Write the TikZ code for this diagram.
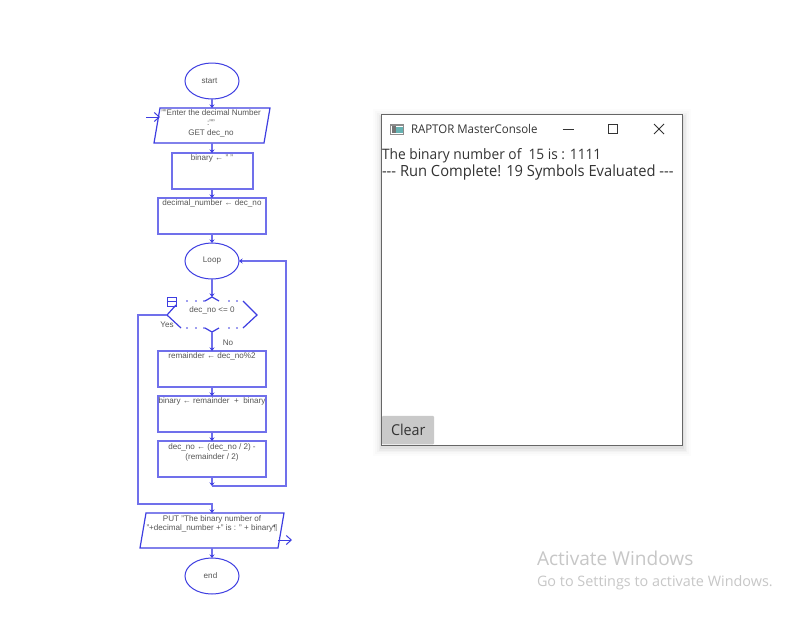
\documentclass[tikz,border=0pt]{standalone}
\usepackage{fontspec}
\setmainfont{Liberation Sans}
\newfontfamily\uifont[FakeStretch=0.955]{Open Sans}
\newfontfamily\wmfont{Open Sans}
\usetikzlibrary{arrows.meta,shapes.geometric,calc}
\definecolor{flow}{RGB}{62,62,225}
\definecolor{flowfill}{RGB}{112,112,235}
\definecolor{ink}{RGB}{85,85,85}
\tikzset{
  x=1pt,y=-1pt,
  every node/.style={inner sep=0pt,outer sep=0pt},
  term/.style={ellipse,draw=flow,line width=1pt,minimum width=54pt,minimum height=36pt},
  boxn/.style={rectangle,draw=flowfill,line width=1.4pt,minimum height=36pt},
  ghost/.style={rectangle,minimum width=130pt,minimum height=35pt},
  para/.style={draw=flow,line width=1.2pt},
  thinp/.style={draw=flow,line width=0.9pt},
  txt/.style={text=ink,font=\fontsize{8.1}{9.7}\selectfont,align=center,yshift=-0.8pt},
  conn/.style={draw=flowfill,line width=1.5pt,-{Stealth[length=3.5pt,width=5pt,color=flow]}},
  io/.style={draw=flow,line width=1pt,-{Straight Barb[length=5pt,width=9pt]}},
  ui/.style={text=black!80,font=\uifont\fontsize{15.4}{17}\selectfont,anchor=base west},
  wm/.style={text=black!22,anchor=base west},
}
\begin{document}
\begin{tikzpicture}
\useasboundingbox (0,0) rectangle (795,616);
\fill[white] (0,0) rectangle (795,616);

% ---- flowchart ----
\node[term] (start) at (212,81) {};
\node[txt] (starttxt) at (209.5,80) {start};

\node[ghost,minimum width=104pt] (inp) at (212,125.5) {};
\draw[para] (160,108) -- (270,108) -- (264,143) -- (154,143) -- cycle;
\node[txt] (inptxt) at (211,122.5) {"{}"Enter the decimal Number\\:"{}"\\GET dec\_no};
\coordinate (inpfree) at (146,117);
\coordinate (inpedge) at (160,117);

\node[boxn,minimum width=81pt] (bin) at (212.5,171) {};
\node[txt] (bintxt) at (212,158) {binary ← " "};
\node[boxn,minimum width=108pt] (dec) at (212,216) {};
\node[txt] (dectxt) at (212,203) {decimal\_number ← dec\_no};

\node[term] (loop) at (212,261) {};
\node[txt] (looptxt) at (212,260) {Loop};

\node[ghost,minimum width=90pt,minimum height=36pt] (cond) at (212,315) {};
\coordinate (condN) at (212,297);
\coordinate (condS) at (212,332);
\coordinate (condW) at (167,315);
\coordinate (condE) at (257,315);
\draw[para] (176,305) -- (condW) -- (181,328);
\draw[para] (243,301) -- (condE) -- (243,328);
\draw[para] (205,301) -- (condN) -- (219,301);
\draw[para] (205,328) -- (condS) -- (219,328);
\foreach \px in {187,196,204,229,237}{
  \fill[flow] (\px,301) circle (0.9);
  \fill[flow] (\px,328) circle (0.9);
}
\node[txt] (condtxt) at (212,309.5) {dec\_no <= 0};
\node[txt] (yes) at (167,324) {Yes};
\node[txt] (no) at (228,342) {No};
\draw[thinp] (167,297) rectangle (176,306);
\draw[thinp] (167,301.5) -- (176,301.5);

\node[boxn,minimum width=108pt] (rem) at (212,369) {};
\node[txt] (remtxt) at (212,356) {remainder ← dec\_no\%2};
\node[boxn,minimum width=108pt] (binb) at (212,414) {};
\node[txt] (binbtxt) at (212,401) {binary ← remainder\ \ +\ \ binary};
\node[boxn,minimum width=108pt] (divn) at (212,459) {};
\node[txt] (divtxt) at (212,451.5) {dec\_no ← (dec\_no / 2) -\\(remainder / 2)};

\coordinate (join) at (212,486);
\coordinate (backR) at (286,486);
\coordinate (backT) at (286,261);
\coordinate (yesL) at (138,315);
\coordinate (yesB) at (138,504);
\coordinate (yesE) at (212,504);

\node[ghost,minimum width=132pt] (out) at (212,530.5) {};
\draw[para] (146,513) -- (284,513) -- (278,548) -- (140,548) -- cycle;
\node[txt] (outtxt) at (212,523) {PUT "The binary number of\\"+decimal\_number +" is : " + binary¶};
\coordinate (outedge) at (278,540);
\coordinate (outfree) at (292,540);

\node[term] (end) at (212,576) {};
\node[txt] (endtxt) at (210.5,575) {end};

\draw[conn] (start.south) -- (inp.north);
\draw[conn] (inp.south) -- (bin.north -| inp.south);
\draw[conn] (bin.south -| inp.south) -- (dec.north);
\draw[conn] (dec.south) -- (loop.north);
\draw[conn] (loop.south) -- (condN);
\draw[conn] (condS) -- (rem.north);
\draw[conn] (rem.south) -- (binb.north);
\draw[conn] (binb.south) -- (divn.north);
\draw[conn] (divn.south) -- (join);
\draw[conn] (join) -- (backR) -- (backT) -- (loop.east);
\draw[conn] (condW) -- (yesL) -- (yesB) -- (yesE) -- (out.north);
\draw[conn] (out.south) -- (end.north);
\draw[io] (inpfree) -- (inpedge);
\draw[io] (outedge) -- (outfree);

% ---- console window ----
\foreach \g/\o in {8/0.012,6/0.016,4/0.022,2.5/0.03,1/0.04}{
  \fill[black,opacity=\o] (381-\g,114-\g+3) rectangle (683+\g,445+\g+3);
}
\node[rectangle,draw=black!60,line width=0.9pt,fill=white,minimum width=301pt,minimum height=331pt] (win) at (532,279.5) {};

\node[rectangle,fill=black!45,minimum width=14pt,minimum height=11pt] (icon) at (397,129) {};
\fill[white] (391,125.5) rectangle (403,133.5);
\fill[black!55] (391.5,126) rectangle (396,133);
\fill[teal!60] (396,127) rectangle (402.5,133);

\node[ui,font=\uifont\fontsize{12}{14}\selectfont] (title) at (411,133.2) {RAPTOR MasterConsole};
\draw[black!80,line width=0.8pt] (562.5,129) -- (573.5,129);
\draw[black!80,line width=0.8pt] (608.5,124.5) rectangle (617.5,133.5);
\draw[black!80,line width=0.8pt] (654,124) -- (664,134) (664,124) -- (654,134);

\node[ui,font=\uifont\fontsize{14.4}{17}\selectfont] (l1) at (382,159) {The binary number of\ \ 15 is : 1111};
\node[ui] (l2) at (382,176) {--{}- Run Complete! 19 Symbols Evaluated --{}-};

\node[rectangle,fill=black!21,rounded corners=1pt,minimum width=52pt,minimum height=28.5pt] (clear) at (408,430) {};
\node[ui,font=\uifont\fontsize{15}{17}\selectfont] (cleartxt) at (391,435) {Clear};

% ---- watermark ----
\node[wm,font=\wmfont\fontsize{19.1}{22}\selectfont] (wm1) at (537,565) {Activate Windows};
\node[wm,font=\wmfont\fontsize{14.4}{17}\selectfont] (wm2) at (537,586) {Go to Settings to activate Windows.};
\end{tikzpicture}
\end{document}
